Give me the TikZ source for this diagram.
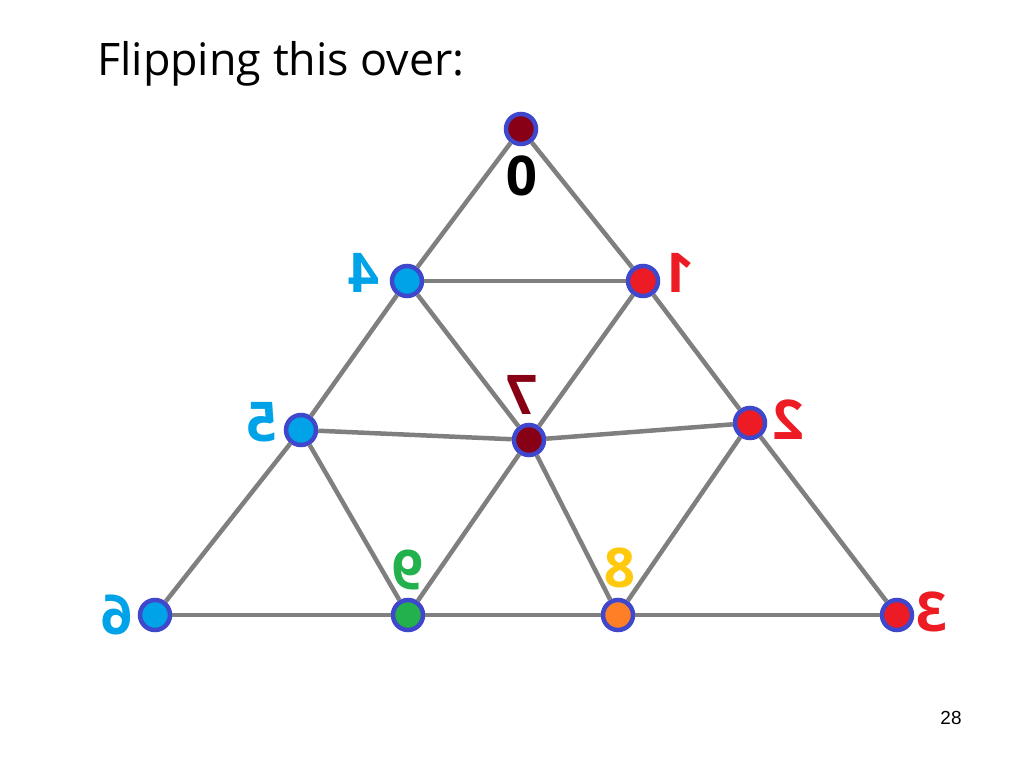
\documentclass[tikz,border=0pt]{standalone}
\usepackage{fontspec}
\setmainfont{Open Sans}
\newfontfamily\arialfont{Liberation Sans}
\usepackage{graphicx}
\definecolor{edgegray}{RGB}{127,127,127}
\definecolor{rimblue}{RGB}{63,72,204}
\definecolor{pdarkred}{RGB}{136,0,21}
\definecolor{plightblue}{RGB}{0,162,232}
\definecolor{pred}{RGB}{237,28,36}
\definecolor{pgreen}{RGB}{34,177,76}
\definecolor{porange}{RGB}{255,127,39}
\definecolor{pyellow}{RGB}{255,201,14}
\tikzset{
  vtx/.style={circle, draw=rimblue, line width=4.5bp, minimum size=30bp, inner sep=0pt},
  edge/.style={draw=edgegray, line width=4.5bp},
  lbl/.style={font=\fontsize{55}{55}\selectfont\bfseries, inner sep=0pt}
}
\newcommand{\mir}[1]{\reflectbox{#1}}
\begin{document}
\begin{tikzpicture}[x=1bp,y=-1bp]
\useasboundingbox (0,0) rectangle (1024,768);
\node[anchor=base west, inner sep=0pt, font=\fontsize{45}{45}\selectfont] (title) at (97,76) {Flipping this over:};
\node[anchor=base, inner sep=0pt, font=\arialfont\fontsize{19}{19}\selectfont] (pg) at (951,724) {28};
% vertices
\node[vtx, fill=pdarkred] (v0) at (521,129) {};
\node[vtx, fill=plightblue] (v4) at (407,281) {};
\node[vtx, fill=pred] (v1) at (643,281) {};
\node[vtx, fill=plightblue] (v5) at (301,430) {};
\node[vtx, fill=pdarkred] (v7) at (529,440) {};
\node[vtx, fill=pred] (v2) at (750,423) {};
\node[vtx, fill=plightblue] (v6) at (155,615) {};
\node[vtx, fill=pgreen] (v9) at (408,615) {};
\node[vtx, fill=porange] (v8) at (618,615) {};
\node[vtx, fill=pred] (v3) at (897,615) {};
% edges
\draw[edge] (v0) -- (v4);
\draw[edge] (v0) -- (v1);
\draw[edge] (v4) -- (v1);
\draw[edge] (v4) -- (v5);
\draw[edge] (v4) -- (v7);
\draw[edge] (v1) -- (v7);
\draw[edge] (v1) -- (v2);
\draw[edge] (v5) -- (v7);
\draw[edge] (v7) -- (v2);
\draw[edge] (v5) -- (v6);
\draw[edge] (v5) -- (v9);
\draw[edge] (v7) -- (v9);
\draw[edge] (v7) -- (v8);
\draw[edge] (v2) -- (v8);
\draw[edge] (v2) -- (v3);
\draw[edge] (v6) -- (v9);
\draw[edge] (v9) -- (v8);
\draw[edge] (v8) -- (v3);
% labels
\node[lbl, text=black] (l0) at (522,176) {\mir{0}};
\node[lbl, text=plightblue] (l4) at (364,273) {\mir{4}};
\node[lbl, text=pred] (l1) at (679,273) {\mir{1}};
\node[lbl, text=plightblue] (l5) at (262,422) {\mir{5}};
\node[lbl, text=pdarkred] (l7) at (522,395) {\mir{7}};
\node[lbl, text=pred] (l2) at (789,420) {\mir{2}};
\node[lbl, text=plightblue] (l6) at (117,615) {\mir{6}};
\node[lbl, text=pgreen] (l9) at (408,570) {\mir{9}};
\node[lbl, text=pyellow] (l8) at (620,568) {\mir{8}};
\node[lbl, text=pred] (l3) at (932,612) {\mir{3}};
\end{tikzpicture}
\end{document}
